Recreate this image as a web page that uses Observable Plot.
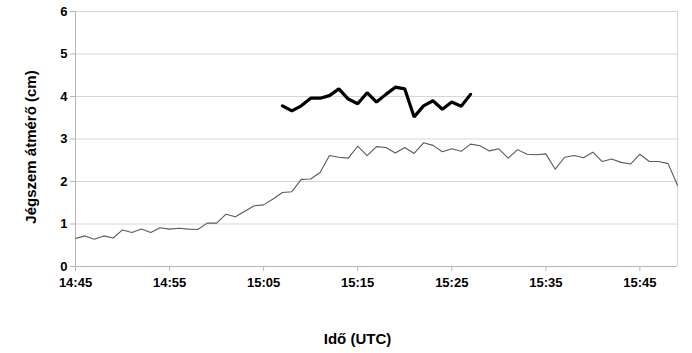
<!DOCTYPE html>
<html>
<head>
<meta charset="utf-8">
<script src="https://cdn.jsdelivr.net/npm/d3@7"></script>
<script src="https://cdn.jsdelivr.net/npm/@observablehq/plot@0.6"></script>
<style>
  html, body { margin: 0; padding: 0; background: #fff; }
  #chart svg { display: block; }
</style>
</head>
<body>
<div id="chart"></div>
<script>
// Hailstone diameter, one reading per minute
const thinStart = "14:45";
const thinValues = [
  0.66, 0.72, 0.64, 0.72, 0.67, 0.86, 0.80, 0.88, 0.80, 0.91,
  0.88, 0.90, 0.88, 0.87, 1.02, 1.02, 1.23, 1.17, 1.30, 1.43,
  1.45, 1.59, 1.74, 1.76, 2.05, 2.06, 2.21, 2.61, 2.57, 2.55,
  2.83, 2.61, 2.82, 2.80, 2.67, 2.80, 2.66, 2.91, 2.85, 2.70,
  2.77, 2.71, 2.88, 2.84, 2.72, 2.77, 2.55, 2.75, 2.64, 2.63,
  2.65, 2.29, 2.57, 2.61, 2.56, 2.69, 2.47, 2.53, 2.45, 2.41,
  2.64, 2.47, 2.47, 2.42, 1.91
];

const thickStart = "15:07";
const thickValues = [
  3.78, 3.66, 3.78, 3.96, 3.96, 4.02, 4.18, 3.94, 3.83, 4.09,
  3.87, 4.05, 4.22, 4.18, 3.52, 3.78, 3.90, 3.70, 3.87, 3.77, 4.05
];

const xTickLabels = ["14:45", "14:55", "15:05", "15:15", "15:25", "15:35", "15:45"];
const yTicks = [0, 1, 2, 3, 4, 5, 6];
const xStart = "14:45";
const xEnd = "15:49";

const yTitle = "Jégszem átmérő (cm)";
const xTitle = "Idő (UTC)";

// clock time <-> minutes since midnight
const toMin = s => { const [h, m] = s.split(":").map(Number); return h * 60 + m; };
const fmt = v => `${Math.floor(v / 60)}:${String(v % 60).padStart(2, "0")}`;

const thin = thinValues.map((v, i) => ({t: toMin(thinStart) + i, v}));
const thick = thickValues.map((v, i) => ({t: toMin(thickStart) + i, v}));

const x0 = toMin(xStart), x1 = toMin(xEnd);
const axisColor = "#b5b5b5";

const chart = Plot.plot({
  width: 692,
  height: 353,
  marginLeft: 75,
  marginRight: 15,
  marginTop: 11,
  marginBottom: 87,
  style: {fontFamily: "'Liberation Sans', Arial, sans-serif", fontSize: "13px", fontWeight: "bold", color: "#000"},
  x: {domain: [x0, x1]},
  y: {domain: [0, 6]},
  marks: [
    Plot.gridY(yTicks.slice(1), {stroke: "#d6d6d6", strokeOpacity: 1}),
    Plot.ruleX([x1], {stroke: "#d6d6d6"}),
    Plot.ruleY([0], {stroke: axisColor}),
    Plot.ruleX([x0], {stroke: axisColor}),
    Plot.axisY({ticks: yTicks, tickFormat: "d", tickSize: 5, tickPadding: 3, stroke: axisColor, fill: "#000", label: null}),
    Plot.axisX({ticks: xTickLabels.map(toMin), tickFormat: fmt, tickSize: 5, tickPadding: 6, stroke: axisColor, fill: "#000", label: null}),
    Plot.line(thin, {x: "t", y: "v", stroke: "#5a5a5a", strokeWidth: 1.1}),
    Plot.line(thick, {x: "t", y: "v", stroke: "#000", strokeWidth: 3.2, strokeLinejoin: "miter"}),
    Plot.text([yTitle], {frameAnchor: "left", textAnchor: "middle", text: d => d, rotate: -90, dx: -44, dy: 8, fontSize: 15, fontWeight: "bold"}),
    Plot.text([xTitle], {frameAnchor: "bottom", text: d => d, dx: -19, dy: 77, fontSize: 15, fontWeight: "bold"})
  ]
});

document.getElementById("chart").appendChild(chart);
</script>
</body>
</html>
